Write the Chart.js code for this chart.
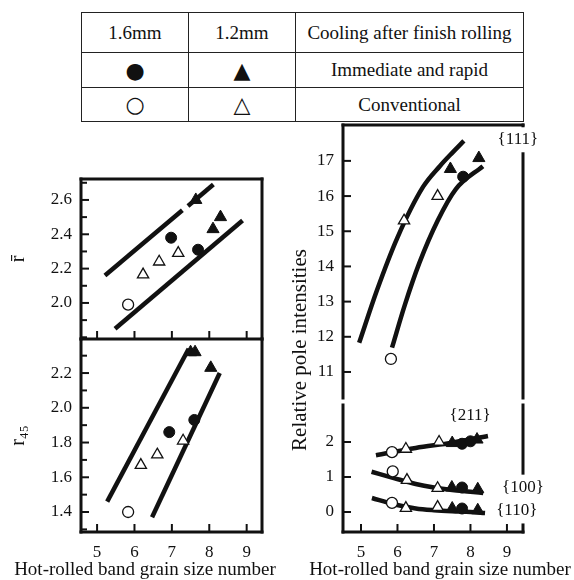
<!DOCTYPE html>
<html>
<head>
<meta charset="utf-8">
<script src="https://cdn.jsdelivr.net/npm/chart.js@4.4.1/dist/chart.umd.min.js"></script>
<style>
  body { margin: 0; background: #fff; }
  #page { position: relative; width: 574px; height: 580px; overflow: hidden;
          font-family: "Liberation Serif", "Times New Roman", serif; color: #111; }
  #page canvas { position: absolute; left: 0; top: 0; }
  #key { position: absolute; left: 81px; top: 12px; width: 443px; border-collapse: collapse; font-size: 19px; }
  #key td { border: 1.5px solid #222; text-align: center; padding: 0; }
  #key .mk { font-family: "DejaVu Sans", sans-serif; font-size: 22px; }
</style>
</head>
<body>
<div id="page">
  <table id="key">
    <tr style="height:40px"><td style="width:106px">1.6mm</td><td style="width:106px">1.2mm</td><td>Cooling after finish rolling</td></tr>
    <tr style="height:35px"><td class="mk">●</td><td class="mk">▲</td><td>Immediate and rapid</td></tr>
    <tr style="height:34px"><td class="mk">○</td><td class="mk">△</td><td>Conventional</td></tr>
  </table>
  <canvas id="rbar" width="574" height="580"></canvas>
  <canvas id="r45" width="574" height="580"></canvas>
  <canvas id="poleHigh" width="574" height="580"></canvas>
  <canvas id="poleLow" width="574" height="580"></canvas>
</div>
<script>
// tick labels
const xTickLabels = ['5', '6', '7', '8', '9'];
const rbarTickLabels = ['2.0', '2.2', '2.4', '2.6'];
const r45TickLabels = ['1.4', '1.6', '1.8', '2.0', '2.2'];
const poleHighTickLabels = ['11', '12', '13', '14', '15', '16', '17'];
const poleLowTickLabels = ['0', '1', '2'];

// r-bar (upper left), [grain size number, value]
const rbarRapid16 = [[6.98, 2.38], [7.70, 2.31]];
const rbarRapid12 = [[7.64, 2.60], [8.10, 2.43], [8.30, 2.50]];
const rbarConv16 = [[5.83, 1.99]];
const rbarConv12 = [[6.23, 2.165], [6.66, 2.24], [7.17, 2.29]];
const rbarUpperA = [[5.21, 2.16], [7.28, 2.54]];
const rbarUpperB = [[7.43, 2.565], [8.11, 2.69]];
const rbarLower = [[5.48, 1.85], [8.89, 2.48]];

// r45 (lower left)
const r45Rapid16 = [[6.93, 1.86], [7.60, 1.93]];
const r45Rapid12 = [[7.50, 2.32], [7.62, 2.32], [8.04, 2.23]];
const r45Conv16 = [[5.83, 1.40]];
const r45Conv12 = [[6.17, 1.67], [6.61, 1.73], [7.30, 1.81]];
const r45Left = [[5.27, 1.46], [7.45, 2.34]];
const r45Right = [[6.47, 1.37], [8.28, 2.20]];

// relative pole intensities {111}
const p111Rapid16 = [[7.80, 16.55]];
const p111Rapid12 = [[7.45, 16.77], [8.23, 17.08]];
const p111Conv16 = [[5.82, 11.37]];
const p111Conv12 = [[6.18, 15.30], [7.10, 16.00]];
const p111Upper = [[4.95, 11.83], [5.44, 13.33], [5.99, 14.80], [6.70, 16.26], [7.16, 16.85], [7.52, 17.25], [7.82, 17.57]];
const p111Lower = [[5.85, 11.69], [6.20, 12.90], [6.60, 14.10], [7.10, 15.30], [7.60, 16.20], [8.34, 16.85]];

// {211}
const p211Rapid16 = [[7.77, 1.95], [8.00, 2.02]];
const p211Rapid12 = [[7.50, 1.97], [8.18, 2.07]];
const p211Conv16 = [[5.85, 1.71]];
const p211Conv12 = [[6.23, 1.80], [7.14, 2.00]];
const p211Line = [[5.41, 1.62], [6.50, 1.83], [7.50, 1.98], [8.48, 2.17]];

// {100}
const p100Rapid16 = [[7.77, 0.70]];
const p100Rapid12 = [[7.49, 0.70], [8.20, 0.65]];
const p100Conv16 = [[5.87, 1.16]];
const p100Conv12 = [[6.26, 0.91], [7.10, 0.68]];
const p100Line = [[5.29, 1.15], [5.90, 0.97], [6.50, 0.80], [7.00, 0.70], [7.50, 0.63], [8.00, 0.58], [8.35, 0.54]];

// {110}
const p110Rapid16 = [[7.77, 0.10]];
const p110Rapid12 = [[7.50, 0.10], [8.20, 0.05]];
const p110Conv16 = [[5.85, 0.26]];
const p110Conv12 = [[6.23, 0.11], [7.10, 0.14]];
const p110Line = [[5.30, 0.40], [5.90, 0.22], [6.50, 0.10], [7.00, 0.05], [7.50, 0.02], [8.00, 0.00], [8.40, -0.03]];

const INK = '#111';
const FONT = '"Liberation Serif", "Times New Roman", serif';
Chart.defaults.font.family = FONT;
Chart.defaults.color = INK;

const pts = a => a.map(([x, y]) => ({ x, y }));

const markStyle = {
  rapid16: { pointStyle: 'circle', pointRadius: 5.5, pointBackgroundColor: INK, pointBorderColor: INK, pointBorderWidth: 1 },
  rapid12: { pointStyle: 'triangle', pointRadius: 7, pointBackgroundColor: INK, pointBorderColor: INK, pointBorderWidth: 1 },
  conv16: { pointStyle: 'circle', pointRadius: 5.5, pointBackgroundColor: '#fff', pointBorderColor: INK, pointBorderWidth: 1.3 },
  conv12: { pointStyle: 'triangle', pointRadius: 6.5, pointBackgroundColor: '#fff', pointBorderColor: INK, pointBorderWidth: 1.3 }
};

function marks(kind, data) {
  return Object.assign({ data: pts(data), showLine: false }, markStyle[kind]);
}

function curve(data, smooth) {
  return {
    data: pts(data), showLine: true, borderColor: INK, borderWidth: 4.5, pointRadius: 0,
    tension: smooth ? 0.4 : 0, cubicInterpolationMode: smooth ? 'monotone' : 'default'
  };
}

// frame sides, inward ticks and free texts per canvas
const panelSetup = {
  rbar: { sides: ['top', 'left', 'right', 'bottom'], xTicks: true, minor: true, notes: [] },
  r45: { sides: ['left', 'right', 'bottom'], xTicks: true, minor: true,
         notes: [{ text: 'Hot-rolled band grain size number', x: 145, y: 570, size: 19 }] },
  poleHigh: { sides: ['top', 'left', 'right'], xTicks: false, minor: false,
              notes: [{ text: 'Relative pole intensities', x: 300, y: 350, size: 21, rot: true },
                      { text: '{111}', x: 9.30, y: 17.6, size: 17, data: true, box: true }] },
  poleLow: { sides: ['left', 'right', 'bottom'], xTicks: true, minor: false,
             notes: [{ text: 'Hot-rolled band grain size number', x: 440, y: 570, size: 19 },
                     { text: '{211}', x: 7.99, y: 2.77, size: 17, data: true },
                     { text: '{100}', x: 9.44, y: 0.71, size: 17, data: true, box: true },
                     { text: '{110}', x: 9.27, y: 0.03, size: 17, data: true, box: true }] }
};

const panelPlugin = {
  id: 'panel',
  afterDraw(chart) {
    const setup = panelSetup[chart.canvas.id];
    const { ctx, chartArea: a } = chart;
    const sx = chart.scales.x, sy = chart.scales.y;
    const seg = (x1, y1, x2, y2) => { ctx.beginPath(); ctx.moveTo(x1, y1); ctx.lineTo(x2, y2); ctx.stroke(); };
    ctx.save();
    ctx.strokeStyle = INK;
    ctx.lineWidth = 2;
    if (setup.xTicks) {
      sx.ticks.forEach(t => {
        if (t.label === '') return;
        const px = sx.getPixelForValue(t.value);
        seg(px, a.bottom, px, a.bottom - 8);
      });
    }
    sy.ticks.forEach(t => {
      const major = t.label !== '';
      if (!major && !setup.minor) return;
      const py = sy.getPixelForValue(t.value);
      seg(a.left, py, a.left + (major ? 8 : 6), py);
    });
    ctx.lineWidth = 3;
    ctx.lineCap = 'square';
    const s = setup.sides;
    if (s.includes('top')) seg(a.left, a.top, a.right, a.top);
    if (s.includes('bottom')) seg(a.left, a.bottom, a.right, a.bottom);
    if (s.includes('left')) seg(a.left, a.top, a.left, a.bottom);
    if (s.includes('right')) seg(a.right, a.top, a.right, a.bottom);
    setup.notes.forEach(n => {
      const px = n.data ? sx.getPixelForValue(n.x) : n.x;
      const py = n.data ? sy.getPixelForValue(n.y) : n.y;
      ctx.font = n.size + 'px ' + FONT;
      ctx.textAlign = 'center';
      ctx.textBaseline = 'middle';
      if (n.box) {
        const w = ctx.measureText(n.text).width;
        ctx.fillStyle = '#fff';
        ctx.fillRect(px - w / 2 - 2, py - n.size / 2 - 4, w + 4, n.size + 8);
      }
      ctx.fillStyle = INK;
      ctx.save();
      ctx.translate(px, py);
      if (n.rot) ctx.rotate(-Math.PI / 2);
      ctx.fillText(n.text, 0, 0);
      ctx.restore();
    });
    ctx.restore();
  }
};

function makePanel(id, o) {
  return new Chart(document.getElementById(id), {
    type: 'scatter',
    data: { datasets: o.datasets },
    options: {
      responsive: false,
      animation: false,
      events: [],
      layout: { padding: o.pad },
      plugins: { legend: { display: false }, tooltip: { enabled: false } },
      scales: {
        x: {
          type: 'linear', min: o.x[0], max: o.x[1],
          afterFit: s => { s.height = o.xh; },
          grid: { display: false, drawTicks: false },
          border: { display: false },
          ticks: {
            display: o.xLabels, stepSize: 1, autoSkip: false, includeBounds: false,
            padding: 10, font: { size: 17 }, color: INK,
            callback: v => xTickLabels.includes(String(v)) ? String(v) : ''
          }
        },
        y: {
          type: 'linear', min: o.y[0], max: o.y[1],
          afterFit: s => { s.width = o.yw; },
          grid: { display: false, drawTicks: false },
          border: { display: false },
          ticks: {
            stepSize: o.step, autoSkip: false, includeBounds: false,
            padding: 9, font: { size: 17 }, color: INK,
            callback: v => {
              const t = o.step < 1 ? v.toFixed(1) : String(v);
              return o.yLabels.includes(t) ? t : '';
            }
          },
          title: o.yTitle
            ? { display: true, text: o.yTitle, font: { size: 20 }, padding: { top: 7, bottom: 0 }, color: INK }
            : { display: false }
        }
      }
    },
    plugins: [panelPlugin]
  });
}

makePanel('rbar', {
  pad: { left: 0, right: 312, top: 179, bottom: 241 },
  x: [4.57, 9.41], xh: 0, xLabels: false,
  y: [1.79, 2.722], yw: 81, step: 0.1, yLabels: rbarTickLabels, yTitle: 'r\u0304',
  datasets: [
    marks('rapid16', rbarRapid16), marks('rapid12', rbarRapid12),
    marks('conv16', rbarConv16), marks('conv12', rbarConv12),
    curve(rbarUpperA), curve(rbarUpperB), curve(rbarLower)
  ]
});

makePanel('r45', {
  pad: { left: 0, right: 312, top: 339, bottom: 0 },
  x: [4.57, 9.41], xh: 48, xLabels: true,
  y: [1.285, 2.396], yw: 81, step: 0.1, yLabels: r45TickLabels, yTitle: 'r\u2084\u2085',
  datasets: [
    marks('rapid16', r45Rapid16), marks('rapid12', r45Rapid12),
    marks('conv16', r45Conv16), marks('conv12', r45Conv12),
    curve(r45Left), curve(r45Right)
  ]
});

makePanel('poleHigh', {
  pad: { left: 0, right: 51, top: 125, bottom: 182 },
  x: [4.507, 9.44], xh: 0, xLabels: false,
  y: [10.26, 18.02], yw: 343, step: 1, yLabels: poleHighTickLabels,
  datasets: [
    marks('rapid16', p111Rapid16), marks('rapid12', p111Rapid12),
    marks('conv16', p111Conv16), marks('conv12', p111Conv12),
    curve(p111Upper, true), curve(p111Lower, true)
  ]
});

makePanel('poleLow', {
  pad: { left: 0, right: 51, top: 405, bottom: 0 },
  x: [4.507, 9.44], xh: 48, xLabels: true,
  y: [-0.571, 3.057], yw: 343, step: 1, yLabels: poleLowTickLabels,
  datasets: [
    marks('rapid16', p211Rapid16), marks('rapid12', p211Rapid12),
    marks('conv16', p211Conv16), marks('conv12', p211Conv12),
    marks('rapid16', p100Rapid16), marks('rapid12', p100Rapid12),
    marks('conv16', p100Conv16), marks('conv12', p100Conv12),
    marks('rapid16', p110Rapid16), marks('rapid12', p110Rapid12),
    marks('conv16', p110Conv16), marks('conv12', p110Conv12),
    curve(p211Line, true), curve(p100Line, true), curve(p110Line, true)
  ]
});
</script>
</body>
</html>
